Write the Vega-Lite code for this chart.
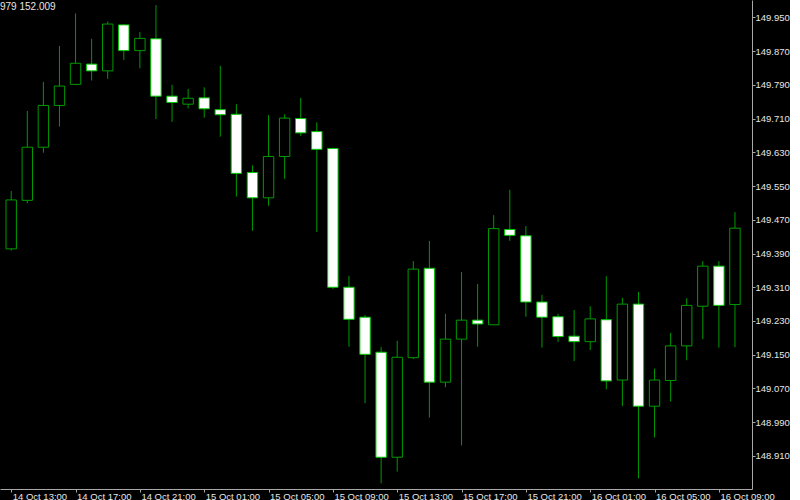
{
  "$schema": "https://vega.github.io/schema/vega-lite/v6.json",
  "width": 752,
  "height": 489,
  "padding": 0,
  "autosize": {"type": "pad"},
  "background": "#000000",
  "config": {"view": {"stroke": null}, "font": "Liberation Sans"},
  "title": {"text": "979 152.009", "anchor": "start", "frame": "group", "orient": "top", "offset": -12, "fontSize": 10, "fontWeight": "normal", "color": "#e6e6e6", "font": "Liberation Sans"},
  "data": {"values": [
    {"t": "2024-10-14T13:00:00Z", "o": 149.401, "h": 149.538, "l": 149.397, "c": 149.517},
    {"t": "2024-10-14T14:00:00Z", "o": 149.516, "h": 149.728, "l": 149.509, "c": 149.642},
    {"t": "2024-10-14T15:00:00Z", "o": 149.642, "h": 149.797, "l": 149.629, "c": 149.741},
    {"t": "2024-10-14T16:00:00Z", "o": 149.741, "h": 149.882, "l": 149.691, "c": 149.787},
    {"t": "2024-10-14T17:00:00Z", "o": 149.791, "h": 149.959, "l": 149.789, "c": 149.841},
    {"t": "2024-10-14T18:00:00Z", "o": 149.839, "h": 149.899, "l": 149.800, "c": 149.823},
    {"t": "2024-10-14T19:00:00Z", "o": 149.823, "h": 149.940, "l": 149.804, "c": 149.934},
    {"t": "2024-10-14T20:00:00Z", "o": 149.932, "h": 149.934, "l": 149.849, "c": 149.871},
    {"t": "2024-10-14T21:00:00Z", "o": 149.871, "h": 149.915, "l": 149.829, "c": 149.900},
    {"t": "2024-10-14T22:00:00Z", "o": 149.899, "h": 149.979, "l": 149.709, "c": 149.763},
    {"t": "2024-10-14T23:00:00Z", "o": 149.763, "h": 149.790, "l": 149.702, "c": 149.748},
    {"t": "2024-10-15T00:00:00Z", "o": 149.744, "h": 149.780, "l": 149.734, "c": 149.758},
    {"t": "2024-10-15T01:00:00Z", "o": 149.759, "h": 149.784, "l": 149.712, "c": 149.733},
    {"t": "2024-10-15T02:00:00Z", "o": 149.731, "h": 149.835, "l": 149.667, "c": 149.719},
    {"t": "2024-10-15T03:00:00Z", "o": 149.720, "h": 149.744, "l": 149.525, "c": 149.580},
    {"t": "2024-10-15T04:00:00Z", "o": 149.582, "h": 149.599, "l": 149.444, "c": 149.522},
    {"t": "2024-10-15T05:00:00Z", "o": 149.522, "h": 149.718, "l": 149.503, "c": 149.620},
    {"t": "2024-10-15T06:00:00Z", "o": 149.620, "h": 149.720, "l": 149.567, "c": 149.711},
    {"t": "2024-10-15T07:00:00Z", "o": 149.710, "h": 149.759, "l": 149.669, "c": 149.676},
    {"t": "2024-10-15T08:00:00Z", "o": 149.679, "h": 149.701, "l": 149.441, "c": 149.637},
    {"t": "2024-10-15T09:00:00Z", "o": 149.639, "h": 149.641, "l": 149.306, "c": 149.310},
    {"t": "2024-10-15T10:00:00Z", "o": 149.310, "h": 149.337, "l": 149.169, "c": 149.234},
    {"t": "2024-10-15T11:00:00Z", "o": 149.239, "h": 149.244, "l": 149.035, "c": 149.151},
    {"t": "2024-10-15T12:00:00Z", "o": 149.156, "h": 149.168, "l": 148.845, "c": 148.907},
    {"t": "2024-10-15T13:00:00Z", "o": 148.907, "h": 149.183, "l": 148.873, "c": 149.144},
    {"t": "2024-10-15T14:00:00Z", "o": 149.143, "h": 149.372, "l": 149.140, "c": 149.353},
    {"t": "2024-10-15T15:00:00Z", "o": 149.355, "h": 149.420, "l": 149.001, "c": 149.085},
    {"t": "2024-10-15T16:00:00Z", "o": 149.085, "h": 149.247, "l": 149.073, "c": 149.187},
    {"t": "2024-10-15T17:00:00Z", "o": 149.187, "h": 149.346, "l": 148.935, "c": 149.232},
    {"t": "2024-10-15T18:00:00Z", "o": 149.232, "h": 149.318, "l": 149.169, "c": 149.223},
    {"t": "2024-10-15T19:00:00Z", "o": 149.221, "h": 149.481, "l": 149.220, "c": 149.449},
    {"t": "2024-10-15T20:00:00Z", "o": 149.447, "h": 149.541, "l": 149.420, "c": 149.433},
    {"t": "2024-10-15T21:00:00Z", "o": 149.432, "h": 149.455, "l": 149.240, "c": 149.275},
    {"t": "2024-10-15T22:00:00Z", "o": 149.275, "h": 149.292, "l": 149.167, "c": 149.239},
    {"t": "2024-10-15T23:00:00Z", "o": 149.240, "h": 149.247, "l": 149.180, "c": 149.193},
    {"t": "2024-10-16T00:00:00Z", "o": 149.194, "h": 149.256, "l": 149.135, "c": 149.181},
    {"t": "2024-10-16T01:00:00Z", "o": 149.181, "h": 149.265, "l": 149.161, "c": 149.235},
    {"t": "2024-10-16T02:00:00Z", "o": 149.233, "h": 149.336, "l": 149.068, "c": 149.088},
    {"t": "2024-10-16T03:00:00Z", "o": 149.090, "h": 149.285, "l": 149.028, "c": 149.270},
    {"t": "2024-10-16T04:00:00Z", "o": 149.270, "h": 149.299, "l": 148.857, "c": 149.028},
    {"t": "2024-10-16T05:00:00Z", "o": 149.028, "h": 149.117, "l": 148.954, "c": 149.090},
    {"t": "2024-10-16T06:00:00Z", "o": 149.089, "h": 149.202, "l": 149.039, "c": 149.171},
    {"t": "2024-10-16T07:00:00Z", "o": 149.171, "h": 149.284, "l": 149.137, "c": 149.267},
    {"t": "2024-10-16T08:00:00Z", "o": 149.265, "h": 149.372, "l": 149.187, "c": 149.360},
    {"t": "2024-10-16T09:00:00Z", "o": 149.360, "h": 149.372, "l": 149.167, "c": 149.267},
    {"t": "2024-10-16T10:00:00Z", "o": 149.269, "h": 149.488, "l": 149.168, "c": 149.450}
  ]},
  "encoding": {
    "x": {
      "field": "t",
      "type": "temporal",
      "scale": {
        "type": "utc",
        "domain": [
          {"year": 2024, "month": 10, "date": 14, "hours": 12, "minutes": 36, "seconds": 48, "utc": true},
          {"year": 2024, "month": 10, "date": 16, "hours": 10, "minutes": 44, "seconds": 54, "utc": true}
        ]
      },
      "axis": {
        "title": null,
        "grid": false,
        "format": "%d %b %H:%M",
        "values": [
          {"year": 2024, "month": 10, "date": 14, "hours": 13, "utc": true},
          {"year": 2024, "month": 10, "date": 14, "hours": 17, "utc": true},
          {"year": 2024, "month": 10, "date": 14, "hours": 21, "utc": true},
          {"year": 2024, "month": 10, "date": 15, "hours": 1, "utc": true},
          {"year": 2024, "month": 10, "date": 15, "hours": 5, "utc": true},
          {"year": 2024, "month": 10, "date": 15, "hours": 9, "utc": true},
          {"year": 2024, "month": 10, "date": 15, "hours": 13, "utc": true},
          {"year": 2024, "month": 10, "date": 15, "hours": 17, "utc": true},
          {"year": 2024, "month": 10, "date": 15, "hours": 21, "utc": true},
          {"year": 2024, "month": 10, "date": 16, "hours": 1, "utc": true},
          {"year": 2024, "month": 10, "date": 16, "hours": 5, "utc": true},
          {"year": 2024, "month": 10, "date": 16, "hours": 9, "utc": true}
        ],
        "labelAlign": "left",
        "labelBaseline": "top",
        "labelOffset": 1,
        "labelPadding": -1,
        "labelFlush": false,
        "labelOverlap": false,
        "labelBound": false,
        "labelColor": "#e6e6e6",
        "labelFont": "Liberation Sans",
        "labelFontSize": 9.5,
        "tickSize": 3,
        "tickColor": "#a8a8a8",
        "domainColor": "#a8a8a8",
        "domainWidth": 1,
        "tickWidth": 1
      }
    }
  },
  "layer": [
    {
      "mark": {"type": "rule", "color": "#009a00", "strokeWidth": 1},
      "encoding": {
        "y": {
          "field": "l",
          "type": "quantitative",
          "scale": {"domain": [148.8317, 149.991], "nice": false, "zero": false},
          "axis": {
            "orient": "right",
            "title": null,
            "grid": false,
            "values": [148.91, 148.99, 149.07, 149.15, 149.23, 149.31, 149.39, 149.47, 149.55, 149.63, 149.71, 149.79, 149.87, 149.95],
            "format": ".3f",
            "labelAlign": "left",
            "labelBaseline": "middle",
            "labelPadding": 0,
            "labelFlush": false,
            "labelOverlap": false,
            "labelBound": false,
            "labelColor": "#e6e6e6",
            "labelFont": "Liberation Sans",
            "labelFontSize": 9.5,
            "tickSize": 3,
            "tickColor": "#a8a8a8",
            "domainColor": "#a8a8a8"
          }
        },
        "y2": {"field": "h"}
      }
    },
    {
      "mark": {"type": "bar", "size": 10.4, "strokeWidth": 1},
      "encoding": {
        "y": {
          "field": "o",
          "type": "quantitative",
          "scale": {"domain": [148.8317, 149.991], "nice": false, "zero": false},
          "axis": {
            "orient": "right",
            "title": null,
            "grid": false,
            "values": [148.91, 148.99, 149.07, 149.15, 149.23, 149.31, 149.39, 149.47, 149.55, 149.63, 149.71, 149.79, 149.87, 149.95],
            "format": ".3f",
            "labelAlign": "left",
            "labelBaseline": "middle",
            "labelPadding": 0,
            "labelFlush": false,
            "labelOverlap": false,
            "labelBound": false,
            "labelColor": "#e6e6e6",
            "labelFont": "Liberation Sans",
            "labelFontSize": 9.5,
            "tickSize": 3,
            "tickColor": "#a8a8a8",
            "domainColor": "#a8a8a8"
          }
        },
        "y2": {"field": "c"},
        "fill": {"condition": {"test": "datum.c < datum.o", "value": "#ffffff"}, "value": "#000000"},
        "stroke": {"condition": {"test": "datum.c < datum.o", "value": "#00c800"}, "value": "#009a00"}
      }
    }
  ]
}
